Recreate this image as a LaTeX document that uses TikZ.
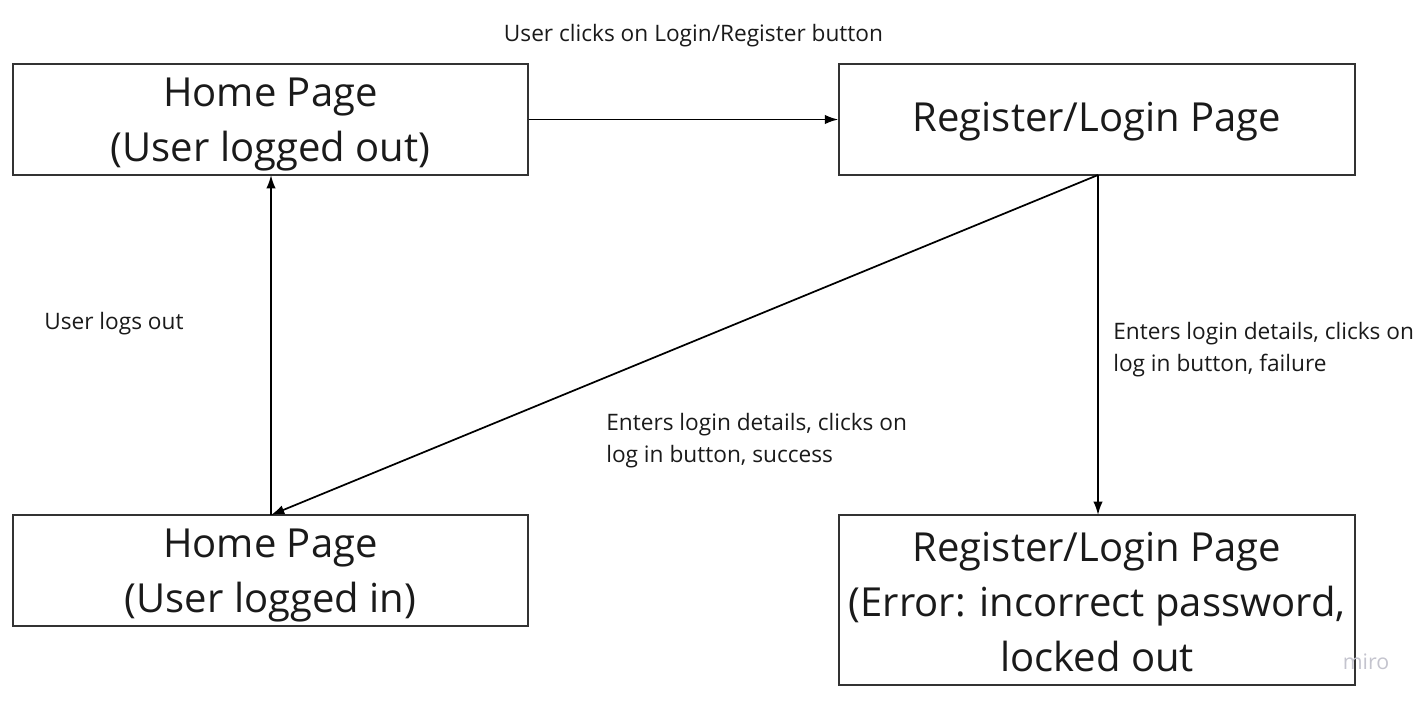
\documentclass[tikz,border=0pt]{standalone}
\usepackage{fontspec}
\setmainfont{Open Sans}
\usetikzlibrary{arrows.meta}
\definecolor{boxline}{HTML}{333333}
\definecolor{txt}{HTML}{1A1A1A}
\definecolor{miro}{HTML}{C4C4CE}
\tikzset{
  statebox/.style={draw=boxline, line width=1.1pt, inner sep=0pt},
  boxtext/.style={text=txt, font=\fontsize{30}{41}\selectfont, align=center, inner sep=0pt},
  conn/.style={draw=black, line width=1.3pt, -{Latex[length=10pt,width=7pt]}},
  lbl/.style={text=txt, font=\fontsize{17}{24}\selectfont, align=left, inner sep=0pt}
}
\begin{document}
\begin{tikzpicture}[x=0.75pt,y=-0.75pt]
\useasboundingbox (0,0) rectangle (1421,703);
\node[statebox, minimum width=515*0.75pt, minimum height=111*0.75pt] (hout) at (270.5,119.5) {};
\node[boxtext] (houtT) at (270.5,124.5) {Home Page\\(User logged out)};
\node[statebox, minimum width=516*0.75pt, minimum height=111*0.75pt] (reg) at (1097,119.5) {};
\node[boxtext] (regT) at (1097,121.5) {Register/Login Page};
\node[statebox, minimum width=515*0.75pt, minimum height=111*0.75pt] (hin) at (270.5,570.5) {};
\node[boxtext] (hinT2) at (270.5,575.5) {Home Page\\(User logged in)};
\node[statebox, minimum width=516*0.75pt, minimum height=170*0.75pt] (err) at (1097,600) {};
\node[boxtext] (errT2) at (1097,602) {Register/Login Page\\(Error: incorrect password,\\locked out};
\coordinate (regb) at (1098,175);
\coordinate (hinT) at (271,515);
\coordinate (houtB) at (271,175);
\coordinate (errT) at (1098,515);
\draw[conn] (hout.east) -- (reg.west);
\draw[conn] (hinT) -- (houtB);
\draw[conn] (regb) -- (hinT);
\draw[conn] (regb) -- (errT);
\node[lbl, anchor=center] (l1) at (693.5,36) {User clicks on Login/Register button};
\node[lbl, anchor=west] (l2) at (44,324) {User logs out};
\node[lbl, anchor=north west] (l3) at (606,413) {Enters login details, clicks on\\log in button, success};
\node[lbl, anchor=north west] (l4) at (1113,322) {Enters login details, clicks on\\log in button, failure};
\node[text=miro, font=\fontsize{16}{16}\selectfont, inner sep=0pt] (wm) at (1366,662) {miro};
\end{tikzpicture}
\end{document}
